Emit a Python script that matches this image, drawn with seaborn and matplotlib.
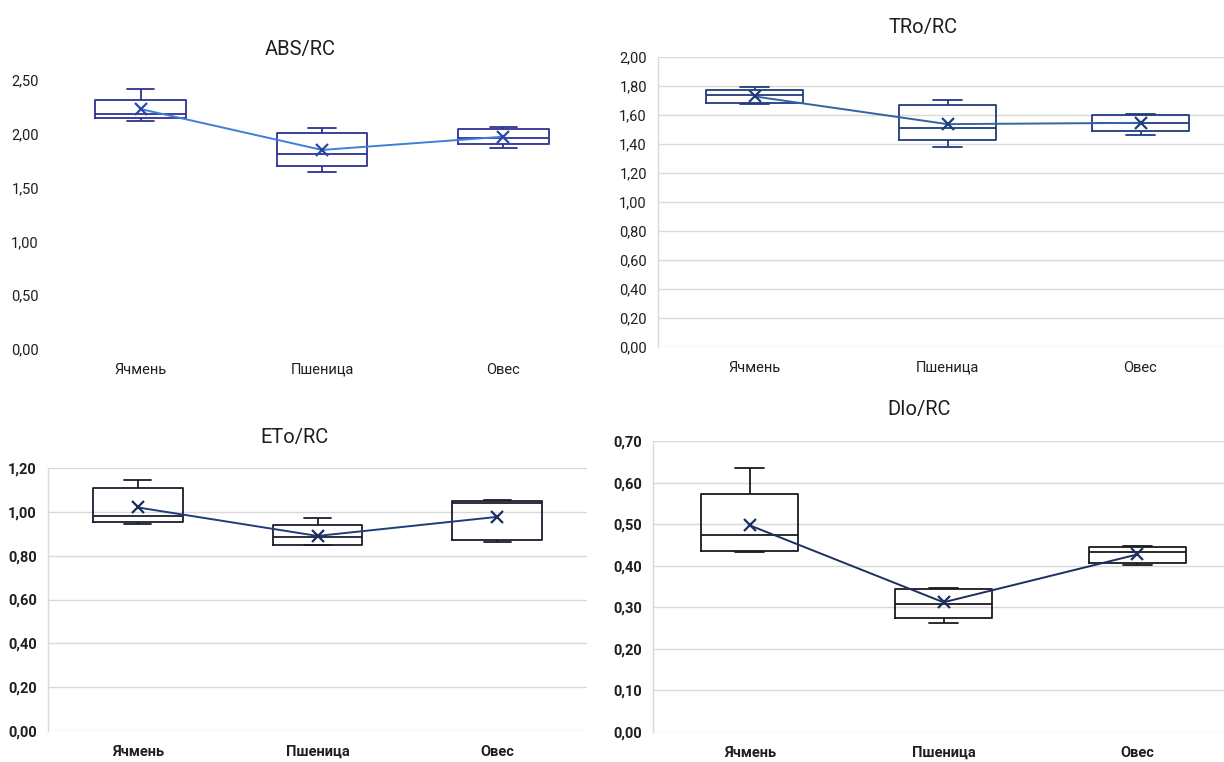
import numpy as np
import pandas as pd
import matplotlib
matplotlib.use("Agg")
import matplotlib.pyplot as plt
from matplotlib.ticker import FuncFormatter, MultipleLocator
import seaborn as sns

# ---- data -------------------------------------------------------------
categories = ["Ячмень", "Пшеница", "Овес"]

# ABS/RC
abs_min = [2.119, 1.645, 1.868]
abs_q1 = [2.147, 1.700, 1.908]
abs_med = [2.187, 1.810, 1.960]
abs_q3 = [2.317, 2.010, 2.045]
abs_max = [2.420, 2.057, 2.066]
abs_mean = [2.230, 1.850, 1.973]

# TRo/RC
tro_min = [1.675, 1.376, 1.459]
tro_q1 = [1.684, 1.426, 1.491]
tro_med = [1.735, 1.509, 1.548]
tro_q3 = [1.770, 1.666, 1.599]
tro_max = [1.793, 1.703, 1.608]
tro_mean = [1.728, 1.537, 1.546]

# ETo/RC
eto_min = [0.944, 0.847, 0.862]
eto_q1 = [0.954, 0.850, 0.873]
eto_med = [0.983, 0.884, 1.040]
eto_q3 = [1.110, 0.938, 1.050]
eto_max = [1.145, 0.974, 1.053]
eto_mean = [1.020, 0.890, 0.977]

# DIo/RC
dio_min = [0.434, 0.263, 0.402]
dio_q1 = [0.435, 0.274, 0.407]
dio_med = [0.475, 0.308, 0.434]
dio_q3 = [0.573, 0.345, 0.446]
dio_max = [0.635, 0.347, 0.448]
dio_mean = [0.497, 0.312, 0.427]


def five_point_frame(mins, q1s, meds, q3s, maxs):
    """Five values per group whose quartiles and extremes are the given stats."""
    rows = []
    for cat, a, b, c, d, e in zip(categories, mins, q1s, meds, q3s, maxs):
        for v in (a, b, c, d, e):
            rows.append({"group": cat, "value": v})
    return pd.DataFrame(rows)


sns.set_theme(style="white")
plt.rcParams["font.family"] = ["Roboto", "DejaVu Sans"]

W, H = 1224, 762
fig = plt.figure(figsize=(W / 100, H / 100), dpi=100)
fig.patch.set_facecolor("white")


def px_axes(left, right, top, bottom):
    return fig.add_axes([left / W, 1 - bottom / H, (right - left) / W, (bottom - top) / H])


comma_fmt = FuncFormatter(lambda v, _: f"{v:.2f}".replace(".", ","))

panels = [
    dict(title="ABS/RC", stats=(abs_min, abs_q1, abs_med, abs_q3, abs_max), mean=abs_mean,
         box=(50, 594, 80, 349), ymax=2.5, step=0.5, grid=False, weight="normal",
         title_xy=(300, 50), box_color="#2E3192", line_color="#3D7FD9", mark_color="#2B47A6"),
    dict(title="TRo/RC", stats=(tro_min, tro_q1, tro_med, tro_q3, tro_max), mean=tro_mean,
         box=(658, 1237, 57, 347), ymax=2.0, step=0.2, grid=True, weight="normal",
         title_xy=(923, 27), box_color="#1F3C7C", line_color="#3363A3", mark_color="#1F3C7C"),
    dict(title="ETo/RC", stats=(eto_min, eto_q1, eto_med, eto_q3, eto_max), mean=eto_mean,
         box=(48, 587, 468, 731), ymax=1.2, step=0.2, grid=True, weight="bold",
         title_xy=(295, 438), box_color="#1B1D2E", line_color="#1F3D78", mark_color="#1C2B5C"),
    dict(title="DIo/RC", stats=(dio_min, dio_q1, dio_med, dio_q3, dio_max), mean=dio_mean,
         box=(653, 1234, 441, 732), ymax=0.7, step=0.1, grid=True, weight="bold",
         title_xy=(919, 410), box_color="#1A1A1F", line_color="#1E2E5E", mark_color="#1E2E5E"),
]

for p in panels:
    ax = px_axes(*p["box"])
    df = five_point_frame(*p["stats"])
    sns.boxplot(data=df, x="group", y="value", order=categories, whis=(0, 100),
                width=0.5, fill=False, color=p["box_color"], linewidth=1.3,
                showfliers=False, capwidths=0.15, ax=ax)
    sns.lineplot(x=np.arange(len(categories)), y=p["mean"], color=p["line_color"],
                 linewidth=1.4, marker="x", markersize=9, markeredgewidth=1.6,
                 markeredgecolor=p["mark_color"], ax=ax, zorder=5)

    ax.set_xlim(-0.5, len(categories) - 0.5)
    ax.set_ylim(0, p["ymax"])
    ax.yaxis.set_major_locator(MultipleLocator(p["step"]))
    ax.yaxis.set_major_formatter(comma_fmt)
    ax.set_xticks(range(len(categories)))
    ax.set_xticklabels(categories)
    ax.set_xlabel("")
    ax.set_ylabel("")
    ax.tick_params(axis="x", length=0, pad=10, labelsize=10.5, labelcolor="#1F1F1F")
    ax.tick_params(axis="y", length=0, pad=8, labelsize=10.5, labelcolor="#1F1F1F")
    for lab in ax.get_xticklabels() + ax.get_yticklabels():
        lab.set_fontweight(p["weight"])

    for side in ("top", "right", "bottom"):
        ax.spines[side].set_visible(False)
    if p["grid"]:
        ax.spines["left"].set_color("#D9D9D9")
        ax.spines["left"].set_linewidth(1.0)
        ax.yaxis.grid(True, color="#D9D9D9", linewidth=1.0)
        ax.set_axisbelow(True)
    else:
        ax.spines["left"].set_visible(False)
        ax.yaxis.grid(False)
    ax.xaxis.grid(False)
    ax.set_facecolor("none")

    fig.text(p["title_xy"][0] / W, 1 - p["title_xy"][1] / H, p["title"],
             ha="center", va="center", fontsize=14.5, color="#1F1F1F")

fig.savefig("out.png", dpi=100, facecolor="white")
